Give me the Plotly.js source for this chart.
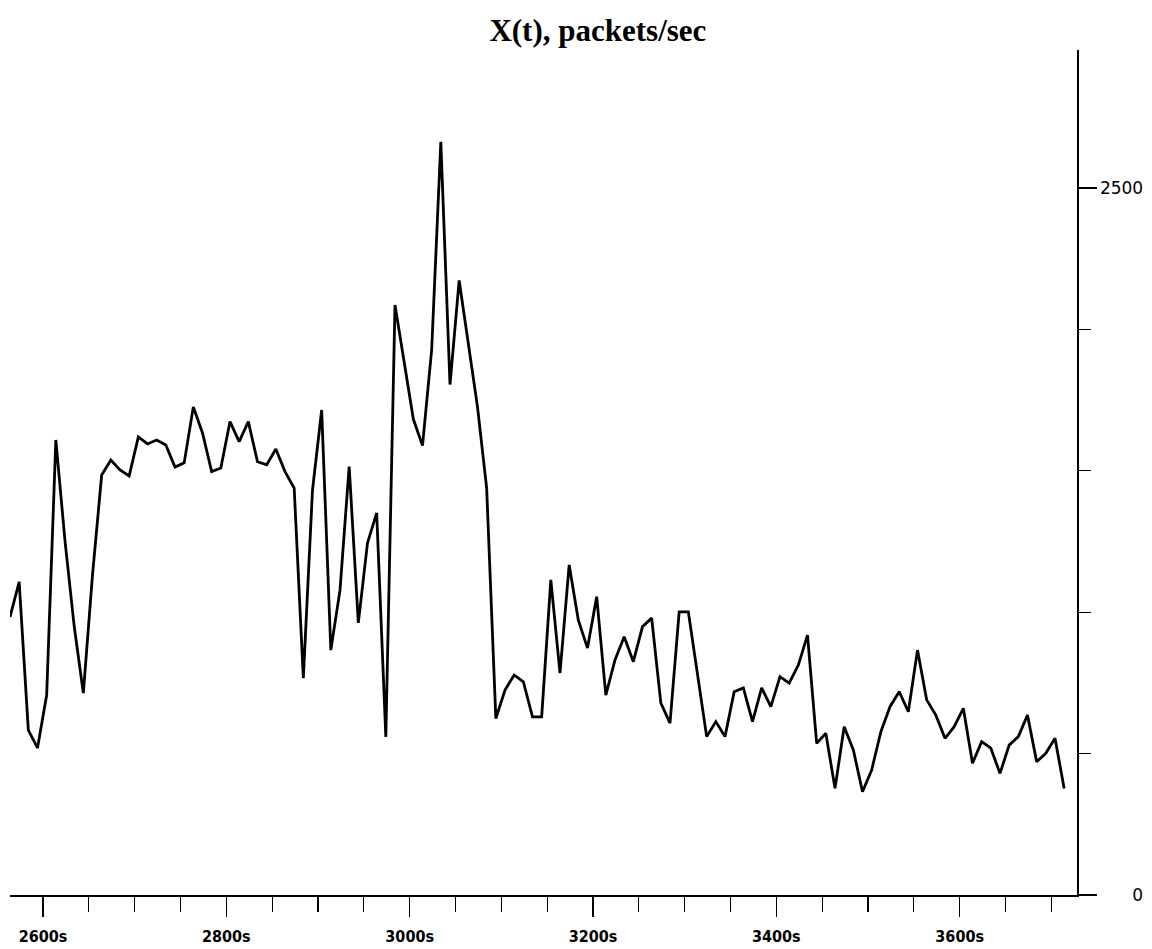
<!DOCTYPE html>
<html>
<head>
<meta charset="utf-8">
<script src="https://cdn.plot.ly/plotly-3.0.1.min.js"></script>
<style>
  html, body { margin: 0; padding: 0; background: #ffffff; }
  #chart { width: 1152px; height: 949px; }
</style>
</head>
<body>
<div id="chart"></div>
<script>
// Time stamps (seconds)
const times = [
  2564, 2574, 2584, 2594, 2604, 2614, 2624, 2634, 2644, 2654,
  2664, 2674, 2684, 2694, 2704, 2714, 2724, 2734, 2744, 2754,
  2764, 2774, 2784, 2794, 2804, 2814, 2824, 2834, 2844, 2854,
  2864, 2874, 2884, 2894, 2904, 2914, 2924, 2934, 2944, 2954,
  2964, 2974, 2984, 2994, 3004, 3014, 3024, 3034, 3044, 3054,
  3064, 3074, 3084, 3094, 3104, 3114, 3124, 3134, 3144, 3154,
  3164, 3174, 3184, 3194, 3204, 3214, 3224, 3234, 3244, 3254,
  3264, 3274, 3284, 3294, 3304, 3314, 3324, 3334, 3344, 3354,
  3364, 3374, 3384, 3394, 3404, 3414, 3424, 3434, 3444, 3454,
  3464, 3474, 3484, 3494, 3504, 3514, 3524, 3534, 3544, 3554,
  3564, 3574, 3584, 3594, 3604, 3614, 3624, 3634, 3644, 3654,
  3664, 3674, 3684, 3694, 3704, 3714
];

// X(t), packets/sec
const packetsPerSec = [
  983, 1107, 583, 520, 707, 1609, 1252, 951, 714, 1132,
  1485, 1538, 1503, 1482, 1620, 1595, 1609, 1591, 1513, 1528,
  1726, 1634, 1497, 1510, 1674, 1603, 1674, 1532, 1521, 1577,
  1497, 1439, 767, 1432, 1715, 866, 1078, 1515, 962, 1245,
  1351, 559, 2086, 1885, 1683, 1589, 1928, 2663, 1805, 2173,
  1942, 1726, 1438, 624, 725, 778, 754, 630, 630, 1114,
  785, 1167, 972, 873, 1055, 707, 831, 913, 825, 949,
  979, 679, 608, 1001, 1001, 785, 560, 613, 560, 719,
  732, 613, 732, 666, 772, 749, 813, 919, 536, 572,
  377, 595, 513, 365, 442, 577, 666, 719, 648, 866,
  690, 636, 554, 595, 660, 466, 542, 519, 430, 530,
  560, 636, 471, 501, 554, 377
];

const yTickVals = [0, 2500];
const yTickText = ['\u2007\u2007\u20070', '2500'];
const titleText = 'X(t), packets/sec';

const trace = {
  x: times,
  y: packetsPerSec,
  type: 'scatter',
  mode: 'lines',
  line: { color: '#000000', width: 2.8 },
  hoverinfo: 'x+y'
};

const layout = {
  width: 1152,
  height: 949,
  paper_bgcolor: '#ffffff',
  plot_bgcolor: '#ffffff',
  showlegend: false,
  margin: { l: 10, r: 75, t: 50, b: 54, pad: 0 },
  title: {
    text: '<b>' + titleText + '</b>',
    x: 0.519, xanchor: 'center', xref: 'container',
    y: 0.968, yanchor: 'middle', yref: 'container',
    font: { family: 'Liberation Serif, Times New Roman, serif', size: 31, color: '#000000' }
  },
  xaxis: {
    range: [2564, 3728],
    showgrid: false,
    zeroline: false,
    showline: true,
    linecolor: '#000000',
    linewidth: 1.5,
    ticks: 'outside',
    ticklen: 20,
    tickwidth: 1.2,
    tickcolor: '#000000',
    tick0: 2600,
    dtick: 200,
    ticksuffix: 's',
    ticklabelstandoff: 6,
    tickfont: { family: 'DejaVu Sans Condensed, DejaVu Sans, sans-serif', size: 16, weight: 'bold', color: '#000000' },
    minor: { dtick: 50, tick0: 2600, ticks: 'outside', ticklen: 15, tickwidth: 1.2, tickcolor: '#000000', showgrid: false },
    fixedrange: true
  },
  yaxis: {
    side: 'right',
    range: [0, 2988],
    showgrid: false,
    zeroline: false,
    showline: true,
    linecolor: '#000000',
    linewidth: 1.5,
    ticks: 'outside',
    ticklen: 18,
    tickwidth: 1.2,
    tickcolor: '#000000',
    tickmode: 'array',
    tickvals: yTickVals,
    ticktext: yTickText,
    tickfont: { family: 'DejaVu Sans, sans-serif', size: 17, color: '#000000' },
    minor: { dtick: 500, tick0: 0, ticks: 'outside', ticklen: 12, tickwidth: 1.2, tickcolor: '#000000', showgrid: false },
    fixedrange: true
  }
};

Plotly.newPlot('chart', [trace], layout, { displayModeBar: false, staticPlot: true });
</script>
</body>
</html>
